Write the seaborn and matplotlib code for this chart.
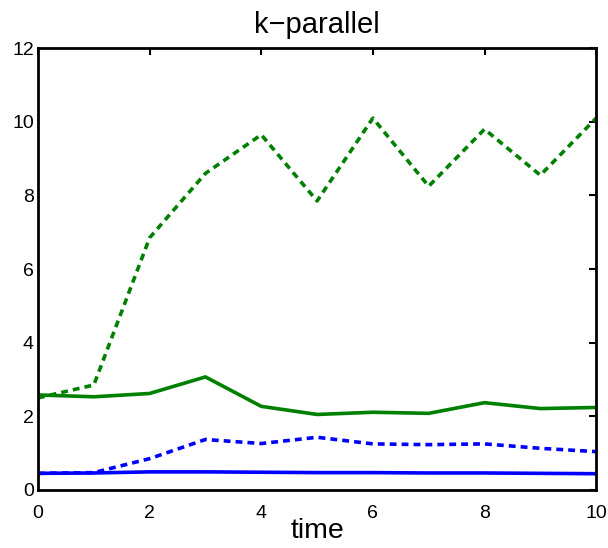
import numpy as np
import pandas as pd
import matplotlib
matplotlib.use("Agg")
import matplotlib.pyplot as plt
import seaborn as sns

sns.set_style("white")
plt.rcParams["font.family"] = ["Liberation Sans", "DejaVu Sans"]
plt.rcParams["text.color"] = "black"

time = list(range(11))
green_dashed = [2.50, 2.85, 6.85, 8.60, 9.65, 7.85, 10.10, 8.25, 9.80, 8.55, 10.10]
green_solid = [2.58, 2.53, 2.62, 3.07, 2.27, 2.05, 2.11, 2.08, 2.37, 2.21, 2.24]
blue_dashed = [0.45, 0.47, 0.85, 1.37, 1.26, 1.43, 1.25, 1.23, 1.25, 1.13, 1.04]
blue_solid = [0.45, 0.46, 0.49, 0.49, 0.48, 0.47, 0.47, 0.46, 0.46, 0.45, 0.44]

x_ticks = [0, 2, 4, 6, 8, 10]
y_ticks = [0, 2, 4, 6, 8, 10, 12]

fig = plt.figure(figsize=(6.08, 5.48), dpi=100)
ax = fig.add_axes([0.0625, 0.106, 0.918, 0.806])

dash = (0, (1.9, 1.4))
series = [
    (green_dashed, "#008000", dash),
    (green_solid, "#008000", "-"),
    (blue_dashed, "#0000ff", dash),
    (blue_solid, "#0000ff", "-"),
]
for values, color, ls in series:
    df = pd.DataFrame({"time": time, "value": values})
    sns.lineplot(data=df, x="time", y="value", ax=ax, color=color,
                 linestyle=ls, linewidth=2.6)

ax.set_xlim(0, 10)
ax.set_ylim(0, 12)
ax.set_xticks(x_ticks)
ax.set_yticks(y_ticks)
ax.set_xticklabels([str(v) for v in x_ticks])
ax.set_yticklabels([str(v) for v in y_ticks])
ax.tick_params(direction="in", length=5, width=1.5, top=True, right=True,
               labelsize=14, color="black", labelcolor="black")
ax.tick_params(axis="x", pad=11)
ax.tick_params(axis="y", pad=3)
for s in ax.spines.values():
    s.set_visible(True)
    s.set_color("black")
    s.set_linewidth(2)
ax.set_title("k\u2212parallel", fontsize=21, pad=11, color="black")
ax.set_xlabel("time", fontsize=20.5, labelpad=-3, color="black")
ax.set_ylabel("")

fig.savefig("out.png", dpi=100)
